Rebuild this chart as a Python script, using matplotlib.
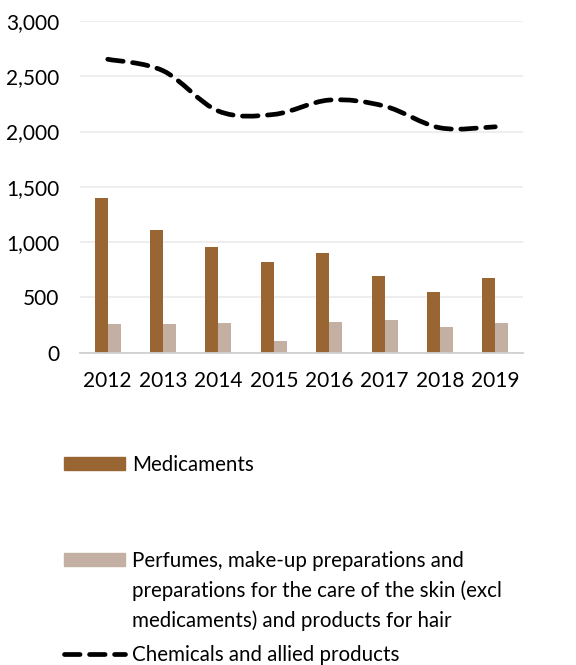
# Exports chart: medicaments, perfumes/cosmetics and chemicals, 2012-2019
import numpy as np
import matplotlib.pyplot as plt
from matplotlib.path import Path
from matplotlib.patches import PathPatch, Patch
from matplotlib.lines import Line2D
from matplotlib.ticker import FuncFormatter

plt.rcParams['font.family'] = ['Lato', 'DejaVu Sans']

years = ['2012', '2013', '2014', '2015', '2016', '2017', '2018', '2019']
medicaments = [1400, 1110, 955, 820, 898, 695, 553, 677]
perfumes = [260, 255, 266, 106, 281, 294, 233, 266]
chemicals = [2654, 2550, 2185, 2155, 2285, 2230, 2034, 2043]

lbl_med = 'Medicaments'
lbl_perf = ['Perfumes, make-up preparations and',
            'preparations for the care of the skin (excl',
            'medicaments) and products for hair']
lbl_chem = 'Chemicals and allied products'

c_med = '#996633'
c_perf = '#c4b0a3'
dash = (0, (3.3, 2.0))


def smooth_path(x, y, tension=1 / 6):
    # Catmull-Rom style bezier through the data points (like Excel "smoothed line")
    x = np.asarray(x, float)
    y = np.asarray(y, float)
    verts = [(x[0], y[0])]
    codes = [Path.MOVETO]
    n = len(x)
    for i in range(n - 1):
        p0 = (x[max(i - 1, 0)], y[max(i - 1, 0)])
        p1 = (x[i], y[i])
        p2 = (x[i + 1], y[i + 1])
        p3 = (x[min(i + 2, n - 1)], y[min(i + 2, n - 1)])
        c1 = (p1[0] + (p2[0] - p0[0]) * tension, p1[1] + (p2[1] - p0[1]) * tension)
        c2 = (p2[0] - (p3[0] - p1[0]) * tension, p2[1] - (p3[1] - p1[1]) * tension)
        verts += [c1, c2, p2]
        codes += [Path.CURVE4] * 3
    return Path(verts, codes)


fig = plt.figure(figsize=(5.76, 6.65), dpi=100)
H = 665.0
ax = fig.add_axes([0.139, 0.4697, 0.769, 0.4987])

x = np.arange(len(years))
w = 0.235
ax.bar(x - w / 2, medicaments, w, color=c_med, zorder=2)
ax.bar(x + w / 2, perfumes, w, color=c_perf, zorder=2)

line = PathPatch(smooth_path(x, chemicals), fill=False, edgecolor='black',
                 linewidth=3.4, linestyle=dash, capstyle='round', zorder=3)
ax.add_patch(line)

ax.set_xlim(-0.5, len(years) - 0.5)
ax.set_ylim(0, 3000)
ax.set_yticks(range(0, 3001, 500))
ax.yaxis.set_major_formatter(FuncFormatter(lambda v, p: f'{int(v):,}'))
ax.set_xticks(x)
ax.set_xticklabels(years)
ax.tick_params(axis='both', length=0, labelsize=15, colors='black')
ax.tick_params(axis='x', pad=13)
ax.tick_params(axis='y', pad=15)
ax.grid(axis='y', color='#ebebeb', linewidth=1.2, zorder=0)
for s in ['top', 'right', 'left']:
    ax.spines[s].set_visible(False)
ax.spines['bottom'].set_color('#d0d0d0')
ax.spines['bottom'].set_linewidth(1.3)

# legend entries, stacked below the chart
fs = 14.8
leg_kw = dict(frameon=False, fontsize=fs, handlelength=2.95, handleheight=0.62,
              handletextpad=0.34, borderaxespad=0, borderpad=0, loc='center left')
lx = 64 / 576
l1 = fig.legend([Patch(color=c_med)], [lbl_med],
                bbox_to_anchor=(lx, 1 - 465 / H), **leg_kw)
l2 = fig.legend([Patch(color=c_perf)], [lbl_perf[0]],
                bbox_to_anchor=(lx, 1 - 561 / H), **leg_kw)
l3 = fig.legend([Line2D([], [], color='black', lw=3.4, ls=dash,
                        dash_capstyle='round')], [lbl_chem],
                bbox_to_anchor=(lx, 1 - 655 / H), **leg_kw)

# remaining lines of the long legend label, aligned with its first line
fig.canvas.draw()
tx = l2.get_texts()[0].get_window_extent().x0 / fig.bbox.width
for k, txt in enumerate(lbl_perf[1:], start=1):
    fig.text(tx, 1 - (561 + 30 * k) / H, txt, fontsize=fs, va='center', ha='left')

fig.savefig('out.png', dpi=100)
